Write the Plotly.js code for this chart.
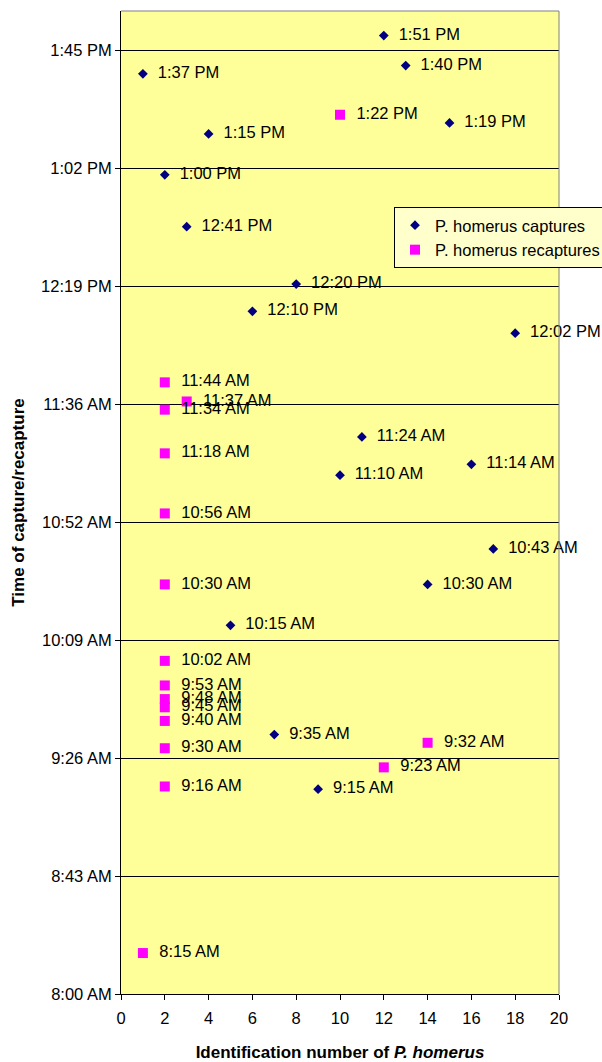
<!DOCTYPE html>
<html>
<head>
<meta charset="utf-8">
<script src="https://cdn.plot.ly/plotly-3.0.1.min.js"></script>
<style>html,body{margin:0;padding:0;background:#fff;}#chart{width:602px;height:1062px;}</style>
</head>
<body>
<div id="chart"></div>
<script>
// Captures
const captureIds = [1, 12, 13, 4, 15, 2, 3, 8, 6, 18, 11, 10, 16, 17, 14, 5, 7, 9];
const captureTimes = ['1:37 PM','1:51 PM','1:40 PM','1:15 PM','1:19 PM','1:00 PM','12:41 PM','12:20 PM','12:10 PM','12:02 PM','11:24 AM','11:10 AM','11:14 AM','10:43 AM','10:30 AM','10:15 AM','9:35 AM','9:15 AM'];
// Recaptures
const recaptureIds = [10, 2, 3, 2, 2, 2, 2, 2, 2, 2, 2, 2, 2, 2, 14, 12, 1];
const recaptureTimes = ['1:22 PM','11:44 AM','11:37 AM','11:34 AM','11:18 AM','10:56 AM','10:30 AM','10:02 AM','9:53 AM','9:48 AM','9:45 AM','9:40 AM','9:30 AM','9:16 AM','9:32 AM','9:23 AM','8:15 AM'];
// Y axis ticks (minutes since midnight) and labels
const yTickVals = [480, 523.2, 566.4, 609.6, 652.8, 696, 739.2, 782.4, 825.6];
const yTickText = ['8:00 AM','8:43 AM','9:26 AM','10:09 AM','10:52 AM','11:36 AM','12:19 PM','1:02 PM','1:45 PM'];
const xTickVals = [0, 2, 4, 6, 8, 10, 12, 14, 16, 18, 20];

function toMinutes(s) {
  const m = s.match(/(\d+):(\d+)\s*(AM|PM)/);
  let h = parseInt(m[1], 10) % 12;
  if (m[3] === 'PM') h += 12;
  return h * 60 + parseInt(m[2], 10);
}

const FONT = 'Liberation Sans, Arial, sans-serif';
const FS = 16.5;

const traces = [
  {
    x: captureIds, y: captureTimes.map(toMinutes), text: captureTimes,
    texttemplate: '\u00A0\u00A0%{text}',
    mode: 'markers+text', type: 'scatter', name: 'P. homerus captures',
    marker: {symbol: 'diamond', size: 7.5, color: '#000080'},
    textposition: 'middle right', textfont: {family: FONT, size: FS, color: '#000'},
    hoverinfo: 'skip', cliponaxis: false
  },
  {
    x: recaptureIds, y: recaptureTimes.map(toMinutes), text: recaptureTimes,
    texttemplate: '\u00A0\u00A0%{text}',
    mode: 'markers+text', type: 'scatter', name: 'P. homerus recaptures',
    marker: {symbol: 'square', size: 10, color: '#FF00FF'},
    textposition: 'middle right', textfont: {family: FONT, size: FS, color: '#000'},
    hoverinfo: 'skip', cliponaxis: false
  }
];

const layout = {
  width: 602, height: 1062,
  margin: {l: 121, r: 43, t: 11, b: 68, autoexpand: false},
  paper_bgcolor: '#ffffff',
  plot_bgcolor: '#FFFF99',
  font: {family: FONT, size: FS, color: '#000'},
  showlegend: true,
  legend: {
    x: (394 - 121) / 438, y: (994 - 207) / 983, xanchor: 'left', yanchor: 'top', xref: 'paper', yref: 'paper',
    bgcolor: '#FFFFCC', bordercolor: '#000', borderwidth: 1,
    font: {family: FONT, size: FS, color: '#000'},
    itemwidth: 30, tracegroupgap: 4
  },
  xaxis: {
    range: [0, 20], tickvals: xTickVals, ticktext: xTickVals.map(String),
    showgrid: false, zeroline: false,
    showline: true, linecolor: '#000', linewidth: 1,
    ticks: 'outside', ticklen: 5, tickcolor: '#000', tickwidth: 1, ticklabelstandoff: 4,
    tickfont: {family: FONT, size: FS, color: '#000'},
    title: {text: '<b>Identification number of <i>P. homerus</i></b>', font: {family: FONT, size: 17, color: '#000'}, standoff: 20},
    automargin: false, fixedrange: true
  },
  yaxis: {
    range: [480, 840], tickvals: yTickVals, ticktext: yTickText,
    showgrid: true, gridcolor: '#000', gridwidth: 1, zeroline: false,
    showline: true, linecolor: '#000', linewidth: 1,
    ticks: 'outside', ticklen: 5, tickcolor: '#000', tickwidth: 1,
    tickfont: {family: FONT, size: FS, color: '#000'},
    title: {text: '<b>Time of capture/recapture</b>', font: {family: FONT, size: 17, color: '#000'}, standoff: 12},
    automargin: false, fixedrange: true
  },
  shapes: [
    {type: 'line', xref: 'paper', yref: 'paper', x0: 0, x1: 1, y0: 1, y1: 1, line: {color: '#808080', width: 1}},
    {type: 'line', xref: 'paper', yref: 'paper', x0: 1, x1: 1, y0: 0, y1: 1, line: {color: '#808080', width: 1}}
  ]
};

Plotly.newPlot('chart', traces, layout, {staticPlot: true, displayModeBar: false});
</script>
</body>
</html>
